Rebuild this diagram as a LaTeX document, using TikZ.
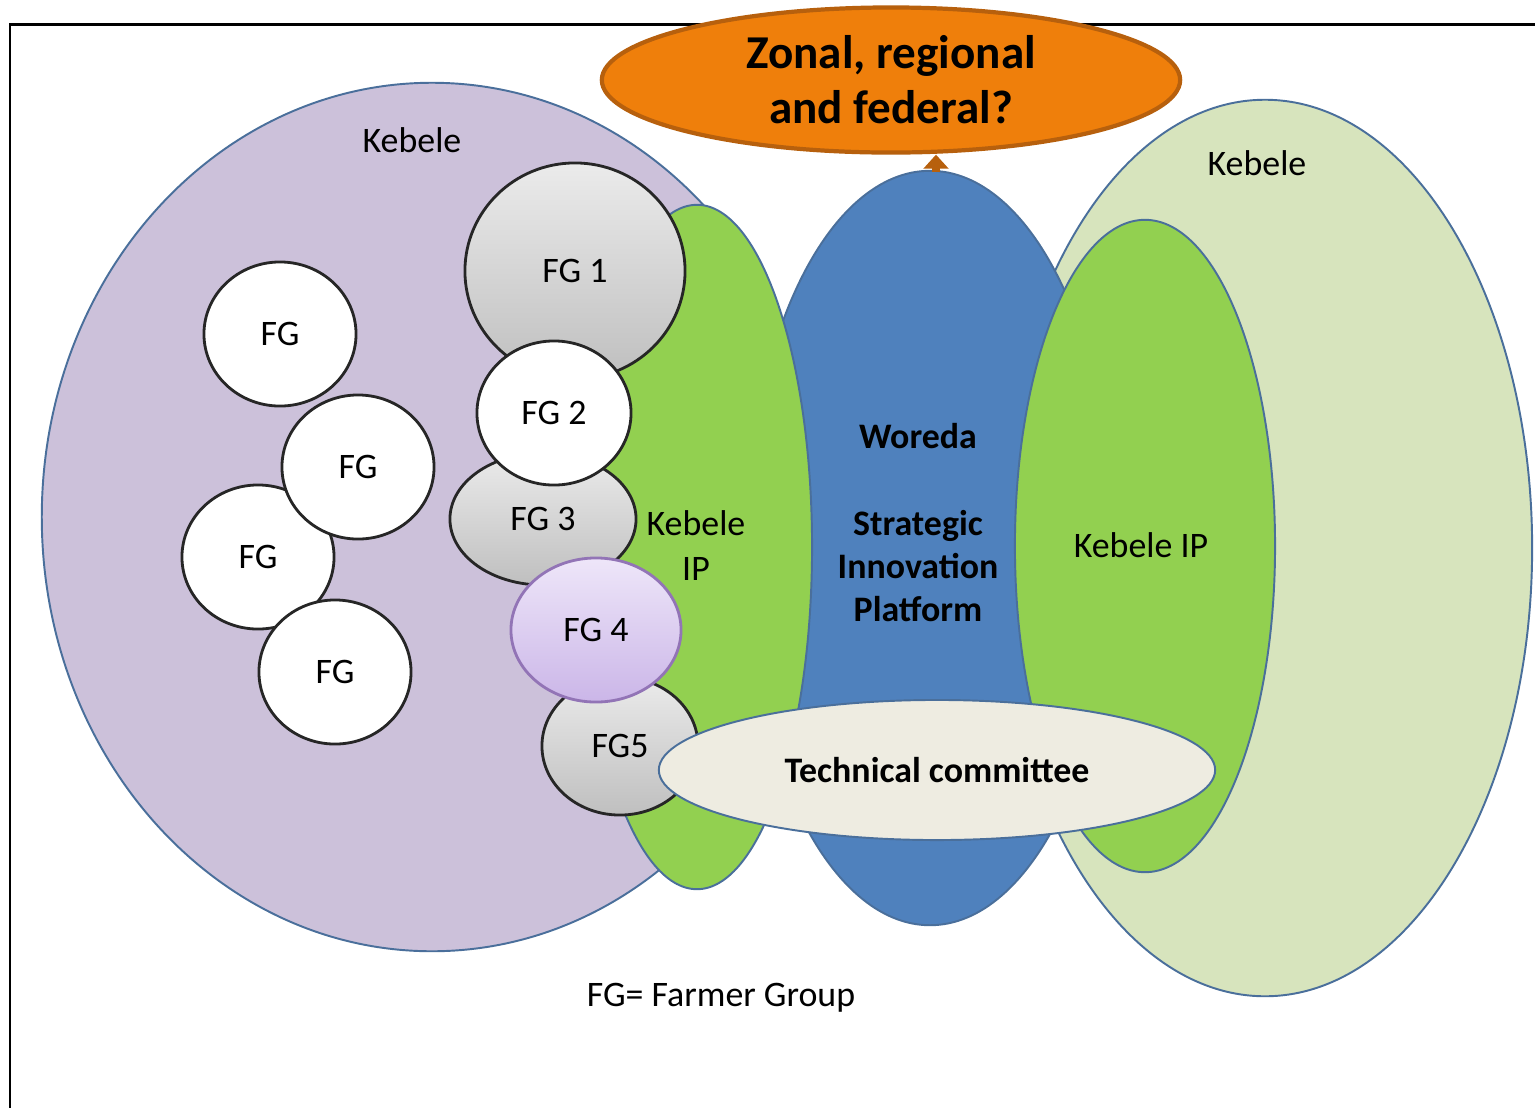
\documentclass[tikz,border=0pt]{standalone}
\usepackage{fontspec}
\setmainfont{Carlito}
\usetikzlibrary{shapes.geometric,arrows.meta}
\definecolor{edgeblue}{HTML}{4A6F9B}
\definecolor{kebpurple}{HTML}{CCC1DA}
\definecolor{kebgreen}{HTML}{D7E4BD}
\definecolor{ipgreen}{HTML}{92D050}
\definecolor{woredablue}{HTML}{4F81BD}
\definecolor{tcfill}{HTML}{EEECE1}
\definecolor{zonefill}{HTML}{EF7F0B}
\definecolor{zoneedge}{HTML}{B7600D}
\definecolor{fgedge}{HTML}{262626}
\definecolor{fgtop}{HTML}{EBEBEB}
\definecolor{fgbot}{HTML}{BFBFBF}
\definecolor{fgptop}{HTML}{EEE6F9}
\definecolor{fgpbot}{HTML}{CBB6E8}
\definecolor{fgpedge}{HTML}{9274B6}
\tikzset{
  blob/.style={ellipse, inner sep=0pt, draw=edgeblue, line width=0.55pt},
  fgwhite/.style={ellipse, inner sep=0pt, draw=fgedge, line width=0.8pt, fill=white, font=\fontsize{10.2}{12}\selectfont},
  fggray/.style={ellipse, inner sep=0pt, draw=fgedge, line width=0.8pt, top color=fgtop, bottom color=fgbot, font=\fontsize{10.2}{12}\selectfont},
  fgpurple/.style={ellipse, inner sep=0pt, draw=fgpedge, line width=0.8pt, top color=fgptop, bottom color=fgpbot, font=\fontsize{10.2}{12}\selectfont},
  lbl/.style={inner sep=0pt, align=center, font=\fontsize{10.2}{12.8}\selectfont},
  blbl/.style={inner sep=0pt, align=center, font=\bfseries\fontsize{10.2}{12.3}\selectfont},
}
\begin{document}
\begin{tikzpicture}[x=0.01cm, y=-0.01cm]
\useasboundingbox (0,0) rectangle (1535,1108);
% frame
\draw[line width=0.85pt] (1535,24) -- (10,24) -- (10,1108);
% big areas
\node[blob, fill=kebpurple, minimum width=7.80cm, minimum height=8.68cm] (kebL) at (432,517) {};
\node[blob, fill=kebgreen, minimum width=5.34cm, minimum height=8.96cm] (kebR) at (1265,548) {};
\node[blob, fill=woredablue, minimum width=3.68cm, minimum height=7.54cm] (woreda) at (930,548) {};
\node[blob, fill=ipgreen, minimum width=2.30cm, minimum height=6.84cm] (ipL) at (697,547) {};
\node[blob, fill=ipgreen, minimum width=2.60cm, minimum height=6.52cm] (ipR) at (1145,546) {};
% labels
\node[lbl] (kebLlbl) at (412,140) {Kebele};
\node[lbl] (kebRlbl) at (1257,163) {Kebele};
\node[lbl] (ipLlbl) at (696,546) {Kebele\\IP};
\node[lbl] (ipRlbl) at (1141,545) {Kebele IP};
\node[blbl] (woredalbl) at (918,523) {Woreda\\[12.3pt]Strategic\\Innovation\\Platform};
% white farmer groups
\node[fgwhite, minimum width=1.52cm, minimum height=1.44cm] (fga) at (280,334) {FG};
\node[fgwhite, minimum width=1.52cm, minimum height=1.44cm] (fgc) at (258,557) {FG};
\node[fgwhite, minimum width=1.52cm, minimum height=1.44cm] (fgb) at (358,467) {FG};
\node[fgwhite, minimum width=1.52cm, minimum height=1.44cm] (fgd) at (335,672) {FG};
% numbered farmer groups
\node[fggray, minimum width=2.20cm, minimum height=2.16cm] (fg1) at (575,271) {FG 1};
\node[fggray, minimum width=1.86cm, minimum height=1.32cm] (fg3) at (543,519) {FG 3};
\node[fggray, minimum width=1.56cm, minimum height=1.38cm] (fg5) at (620,746) {FG5};
\node[fgwhite, minimum width=1.54cm, minimum height=1.44cm] (fg2) at (554,413) {FG 2};
\node[fgpurple, minimum width=1.70cm, minimum height=1.44cm] (fg4) at (596,630) {FG 4};
% technical committee
\node[blob, fill=tcfill, minimum width=5.56cm, minimum height=1.40cm, font=\bfseries\fontsize{10.2}{12}\selectfont] (tc) at (937,770) {Technical committee};
% arrow to zonal
\coordinate (arrowfoot) at ([xshift=0.06cm,yshift=-0.02cm]woreda.north);
% zonal
\node[ellipse, inner sep=0pt, fill=zonefill, draw=zoneedge, line width=1.2pt, minimum width=5.78cm, minimum height=1.45cm, align=center, font=\bfseries\fontsize{13.4}{15.6}\selectfont] (zonal) at (891,80) {Zonal, regional\\and federal?};
\draw[draw=zoneedge, line width=2.3pt, -{Triangle[width=7pt,length=4pt]}] (arrowfoot) -- (arrowfoot |- zonal.south);
% legend
\node[lbl] (legend) at (721,998) {FG= Farmer Group};
\end{tikzpicture}
\end{document}
